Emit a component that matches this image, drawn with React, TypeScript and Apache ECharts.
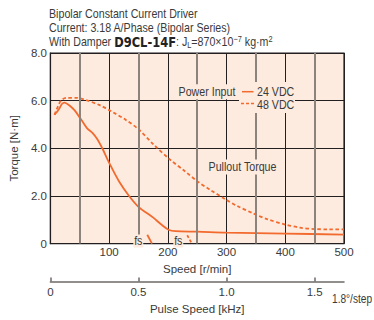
import React, { useEffect, useRef } from 'react';
import * as echarts from 'echarts';

// ---- data ----
const speed24 = [7, 12, 15, 20, 24, 32, 41, 49, 58, 63, 72, 80, 89, 97, 103, 117, 134, 151, 174, 190, 202, 213, 250, 300, 400, 500];
const torque24 = [5.42, 5.55, 5.66, 5.87, 5.92, 5.81, 5.6, 5.33, 5.0, 4.83, 4.64, 4.38, 3.97, 3.55, 3.25, 2.61, 2.0, 1.52, 1.11, 0.78, 0.57, 0.52, 0.5, 0.46, 0.42, 0.38];
const speed48 = [7, 11, 18, 27, 44, 60, 83, 106, 128, 151, 176, 205, 227, 250, 272, 298, 318, 346, 370, 400, 425, 450, 475, 500];
const torque48 = [5.4, 5.65, 6.0, 6.12, 6.12, 6.03, 5.82, 5.52, 5.2, 4.78, 4.15, 3.5, 3.08, 2.62, 2.26, 1.86, 1.58, 1.26, 1.02, 0.8, 0.67, 0.61, 0.6, 0.6];
const fs24Speed = [165, 173];
const fs24Torque = [0.37, 0];
const fs48Speed = [233, 241];
const fs48Torque = [0.35, 0];
const minorGridSpeeds = [50, 150, 250, 350, 450];
const titleLines = ['Bipolar Constant Current Driver', 'Current: 3.18 A/Phase (Bipolar Series)'];

const zip = (a: number[], b: number[]) => a.map((v, i) => [v, b[i]]);

const FONT = "'Liberation Sans',Arial,sans-serif";
const TXT = '#3a3a3a';
const ORANGE = '#f26a2e';
const PEACH = '#fdebdf';
const DARK = '#231f20';
const GRAY = '#8c837d';
const SX = 0.82; // horizontal squeeze to mimic the narrow face of the original

export default function App() {
  const ref = useRef<HTMLDivElement>(null);
  useEffect(() => {
    document.body.style.margin = '0';
    const chart = echarts.init(ref.current!, null, { renderer: 'svg' });
    const txt = (extra: any = {}) => ({ color: TXT, fontSize: 11.5, fontFamily: FONT, ...extra });
    const gtext = (text: string, x: number, y: number, align: string, extra: any = {}, sx = SX) => ({
      type: 'text', x, y, z: 11, scaleX: sx,
      style: { text, font: `13px ${FONT}`, fill: TXT, align, verticalAlign: 'middle', ...extra },
    });
    chart.setOption({
      animation: false,
      textStyle: { fontFamily: FONT },
      grid: { left: 49, top: 53, width: 295, height: 196, show: true, backgroundColor: PEACH, borderColor: DARK, borderWidth: 1.2 },
      xAxis: [
        {
          type: 'value', min: 0, max: 500, interval: 100, position: 'bottom',
          axisLine: { show: true, lineStyle: { color: DARK, width: 1.2 } },
          axisTick: { show: false },
          axisLabel: { ...txt(), margin: 2.5, formatter: (v: number) => (v === 0 ? '' : String(v)) },
          splitLine: { show: true, lineStyle: { color: DARK, width: 1 } },
          name: 'Speed [r/min]', nameLocation: 'middle', nameGap: 16, nameTextStyle: txt(),
        },
        {
          type: 'value', min: 0, max: 5 / 3, interval: 0.5, position: 'bottom', offset: 38,
          axisLine: { show: true, lineStyle: { color: '#6f6965', width: 1.5 } },
          axisTick: { show: true, inside: true, length: 4, lineStyle: { color: '#6f6965', width: 1.5 } },
          axisLabel: { ...txt(), margin: 4.5, showMaxLabel: false, formatter: (v: number) => (v === 0 ? '0' : v.toFixed(1)) },
          splitLine: { show: false },
          name: 'Pulse Speed [kHz]', nameLocation: 'middle', nameGap: 19, nameTextStyle: txt(),
        },
      ],
      yAxis: {
        type: 'value', min: 0, max: 8, interval: 2,
        axisLine: { show: true, lineStyle: { color: DARK, width: 1.2 } },
        axisTick: { show: false },
        axisLabel: { ...txt(), margin: 3.5, formatter: (v: number) => (v === 0 ? '0' : v.toFixed(1)) },
        splitLine: { show: true, lineStyle: { color: DARK, width: 1 } },
        name: 'Torque [N·m]', nameLocation: 'middle', nameGap: 21, nameRotate: 90, nameTextStyle: txt(),
      },
      series: [
        {
          type: 'line', z: 1, data: zip(fs24Speed, fs24Torque), showSymbol: false, symbol: 'none',
          lineStyle: { color: ORANGE, width: 1.8 },
          markLine: {
            silent: true, symbol: 'none', label: { show: false },
            lineStyle: { color: GRAY, width: 2, type: 'solid' },
            data: minorGridSpeeds.map((s) => ({ xAxis: s })),
          },
        },
        {
          type: 'line', z: 2, data: zip(fs48Speed, fs48Torque), showSymbol: false, symbol: 'none',
          lineStyle: { color: ORANGE, width: 1.8, type: [3, 2] },
        },
        {
          type: 'line', z: 3, data: zip(speed24, torque24), showSymbol: false, symbol: 'none', smooth: 0.3,
          lineStyle: { color: ORANGE, width: 1.8 },
        },
        {
          type: 'line', z: 3, data: zip(speed48, torque48), showSymbol: false, symbol: 'none', smooth: 0.3,
          lineStyle: { color: ORANGE, width: 1.8, type: [3.5, 2.5] },
        },
      ],
      graphic: [
        gtext(titleLines[0], 49, 14, 'left'),
        gtext(titleLines[1], 49, 28, 'left'),
        {
          type: 'text', x: 49, y: 42, z: 11, scaleX: SX,
          style: {
            text: '{a|With Damper }{b|D9CL-14F}{a|: J}{s|L}{a|=870×10}{p|−7}{a| kg·m}{p|2}',
            align: 'left', verticalAlign: 'middle',
            rich: {
              a: { fontSize: 13, fontFamily: FONT, fill: TXT, lineHeight: 15 },
              b: { fontSize: 14, fontFamily: "'DejaVu Sans',sans-serif", fontWeight: 'bold', fill: '#222', lineHeight: 15 },
              s: { fontSize: 9, fontFamily: FONT, fill: TXT, verticalAlign: 'bottom', lineHeight: 15 },
              p: { fontSize: 9, fontFamily: FONT, fill: TXT, verticalAlign: 'top', lineHeight: 11 },
            },
          },
        },
        { type: 'rect', z: 10, shape: { x: 239, y: 82, width: 56, height: 31 }, style: { fill: PEACH } },
        gtext('Power Input', 237, 91.7, 'right', { backgroundColor: PEACH, padding: [1, 2] }),
        { type: 'line', z: 11, shape: { x1: 242, y1: 91.7, x2: 253.5, y2: 91.7 }, style: { stroke: ORANGE, lineWidth: 1.5 } },
        gtext('24 VDC', 257, 91.7, 'left'),
        { type: 'line', z: 11, shape: { x1: 241, y1: 103.5, x2: 254, y2: 103.5 }, style: { stroke: ORANGE, lineWidth: 1.5, lineDash: [3, 2] } },
        gtext('48 VDC', 257, 105, 'left'),
        gtext('Pullout Torque', 242.5, 167, 'center', { backgroundColor: PEACH, padding: [1, 2] }),
        gtext('fs', 138.3, 241, 'center', { backgroundColor: PEACH, padding: [0, 1] }),
        gtext('fs', 178.3, 241, 'center', { backgroundColor: PEACH, padding: [0, 1] }),
        gtext('1.8°/step', 332, 297.7, 'left', {}, 0.78),
      ],
    });
    return () => chart.dispose();
  }, []);
  return <div ref={ref} style={{ position: 'absolute', left: 0, top: 0, width: 374, height: 320 }} />;
}
